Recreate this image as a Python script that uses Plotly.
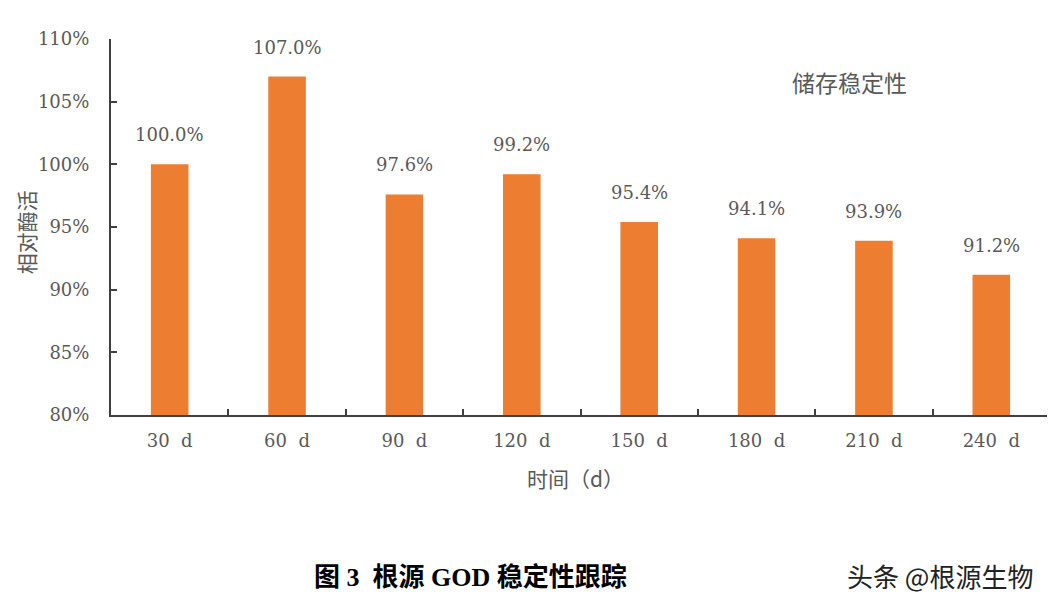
import plotly.graph_objects as go

categories = ["30 d", "60 d", "90 d", "120 d", "150 d", "180 d", "210 d", "240 d"]
values = [100.0, 107.0, 97.6, 99.2, 95.4, 94.1, 93.9, 91.2]
labels = ["100.0%", "107.0%", "97.6%", "99.2%", "95.4%", "94.1%", "93.9%", "91.2%"]
ytick_vals = [80, 85, 90, 95, 100, 105, 110]
ytick_text = ["80%", "85%", "90%", "95%", "100%", "105%", "110%"]

serif = "DejaVu Serif, Noto Sans CJK SC, serif"
cjk = "Noto Sans CJK SC, sans-serif"
gray = "#595959"

cat_disp = [c.replace(" ", "\u00a0\u00a0") for c in categories]

fig = go.Figure()
fig.add_trace(go.Bar(x=cat_disp, y=values, marker=dict(color="#ED7D31", line=dict(width=0)),
                     width=0.32, base=0, hoverinfo="skip"))

for c, v, t in zip(cat_disp, values, labels):
    fig.add_annotation(x=c, y=v, text=t, showarrow=False, yanchor="bottom", yshift=17,
                       font=dict(family=serif, size=18, color=gray))

fig.update_layout(
    width=1047, height=599, paper_bgcolor="white", plot_bgcolor="white",
    margin=dict(l=103, r=5, t=31, b=192), showlegend=False,
    xaxis=dict(showline=True, linecolor="#404040", linewidth=2, ticks="inside", ticklen=6,
               tickcolor="#404040", tickwidth=2, tickson="boundaries", ticklabelstandoff=8,
               tickfont=dict(family=serif, size=18, color=gray), showgrid=False),
    yaxis=dict(range=[80, 110], tickvals=ytick_vals, ticktext=ytick_text,
               showline=True, linecolor="#404040", linewidth=2, ticks="inside", ticklen=6,
               tickcolor="#404040", tickwidth=2, showgrid=False, zeroline=False, ticklabelstandoff=16,
               tickfont=dict(family=serif, size=18, color=gray)),
)

fig.add_annotation(xref="paper", yref="paper", x=-0.091, y=0.485, xanchor="center", yanchor="middle",
                   text="相对酶活", textangle=-90,
                   showarrow=False, font=dict(family=cjk, size=21, color=gray))
fig.add_annotation(xref="paper", yref="paper", x=0.495, y=-0.168, xanchor="center", yanchor="middle",
                   text="时间（d）",
                   showarrow=False, font=dict(family=cjk, size=21, color=gray))
fig.add_annotation(xref="paper", yref="paper", x=0.786, y=0.886, xanchor="center", yanchor="middle",
                   text="储存稳定性",
                   showarrow=False, font=dict(family=cjk, size=23, color=gray))
fig.add_annotation(xref="paper", yref="paper", x=0.214, y=-0.431, xanchor="left", yanchor="middle",
                   text="<b>图 3  根源 GOD 稳定性跟踪</b>", showarrow=False,
                   font=dict(family="Liberation Serif, Noto Sans CJK SC, serif", size=26, color="black"))
fig.add_annotation(xref="paper", yref="paper", x=0.782, y=-0.426, xanchor="left", yanchor="middle",
                   text="头条 @根源生物", showarrow=False,
                   font=dict(family=cjk, size=26, color="#222222"))

fig.write_html("out.html")
